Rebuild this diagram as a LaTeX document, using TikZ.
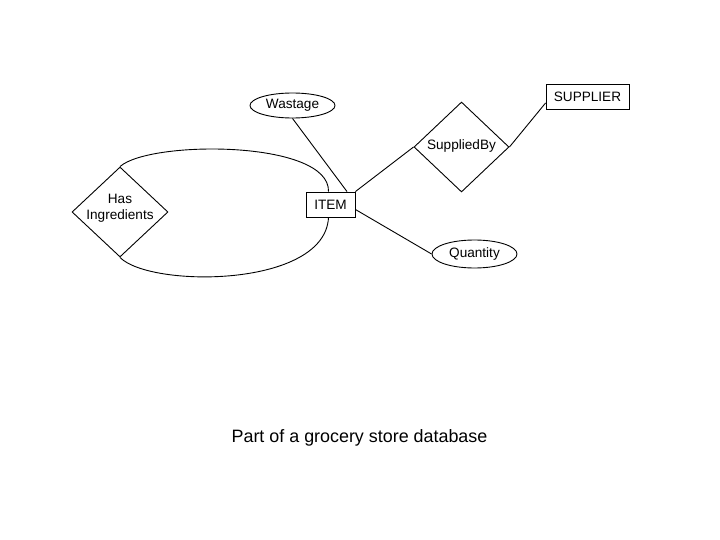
\documentclass[tikz,border=0pt]{standalone}
\usepackage{fontspec}
\setmainfont{Liberation Sans}
\usetikzlibrary{shapes.geometric}
\begin{document}
\begin{tikzpicture}[x=1pt,y=-1pt,line width=0.9pt,
  lbl/.style={font=\fontsize{13.6}{16}\selectfont, inner sep=0pt, align=center},
  entity/.style={draw, rectangle, inner sep=0pt, font=\fontsize{13.6}{16}\selectfont},
  attr/.style={draw, ellipse, inner sep=0pt, font=\fontsize{13.6}{16}\selectfont},
  rel/.style={draw, diamond, inner sep=0pt}]
\useasboundingbox (0,0) rectangle (720,540);
\node[entity, minimum width=49pt, minimum height=25pt] (item) at (330.5,204.5) {ITEM};
\node[entity, minimum width=83pt, minimum height=25pt] (supplier) at (587.5,96.5) {SUPPLIER};
\node[attr, minimum width=85pt, minimum height=25pt] (wastage) at (292.5,105.5) {Wastage};
\node[attr, minimum width=85pt, minimum height=28pt] (quantity) at (474.5,254) {Quantity};
\node[rel, minimum width=96pt, minimum height=90pt] (hi) at (120,212) {};
\node[lbl] (hitext) at (120,208) {Has\\Ingredients};
\node[rel, minimum width=95pt, minimum height=90pt] (sb) at (461.5,147) {};
\node[lbl] (sbtext) at (461.5,146) {SuppliedBy};
\node[font=\fontsize{17.9}{22}\selectfont, inner sep=0pt] (caption) at (359.5,438) {Part of a grocery store database};
\draw (wastage.south) -- ([xshift=16.5pt]item.north);
\draw (item.north east) -- (sb.west);
\draw (sb.east) -- ([yshift=-6.5pt]supplier.west);
\draw ([yshift=-5pt]item.east) -- (quantity.west);
\draw (hi.north) .. controls (150,140) and (330,140) .. ([xshift=-2pt]item.north);
\draw (hi.south) .. controls (150,288) and (325,288) .. ([xshift=-2pt]item.south);
\end{tikzpicture}
\end{document}
